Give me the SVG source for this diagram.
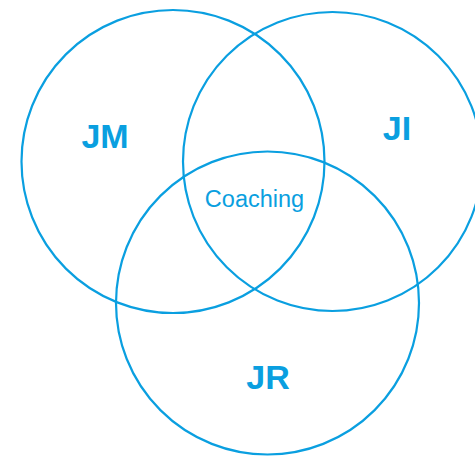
<svg xmlns="http://www.w3.org/2000/svg" width="475" height="456" viewBox="0 0 475 456">
<style>
.c{fill:none;stroke:#0a9fe0;stroke-width:2.2}
.b{font-family:"Liberation Sans",Arial,sans-serif;font-weight:bold;font-size:34px;fill:#0a9fe0;text-anchor:middle}
.r{font-family:"Liberation Sans",Arial,sans-serif;font-size:23.5px;fill:#0a9fe0;text-anchor:middle}
</style>
<rect width="475" height="456" fill="#ffffff"/>
<g id="jm"><circle class="c" cx="173" cy="161.5" r="151.5"/><text class="b" x="105" y="148">JM</text></g>
<g id="ji"><circle class="c" cx="332.5" cy="161.5" r="149.5"/><text class="b" x="397" y="140">JI</text></g>
<g id="jr"><circle class="c" cx="267.5" cy="303" r="151.5"/><text class="b" x="268" y="389">JR</text></g>
<g id="coaching"><text class="r" x="254.5" y="207">Coaching</text></g>
<g id="connectors"/>
</svg>
